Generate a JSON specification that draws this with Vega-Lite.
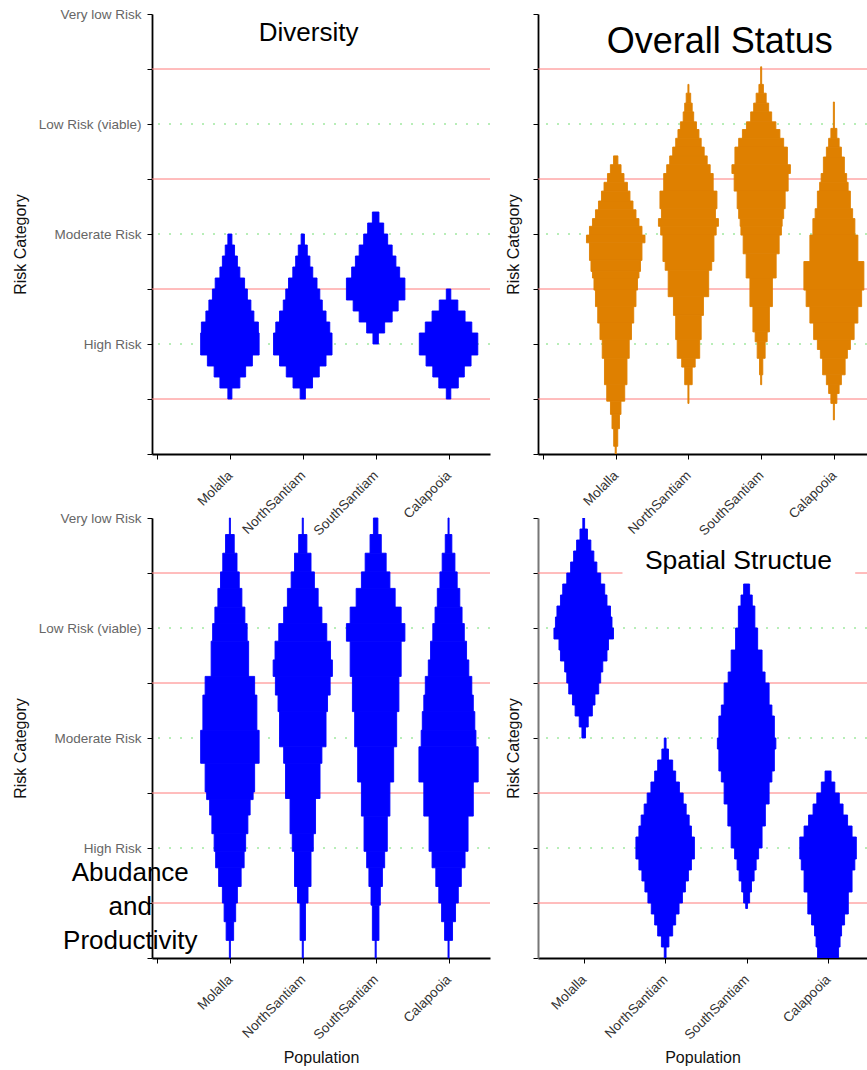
{
  "$schema": "https://vega.github.io/schema/vega-lite/v6.json",
  "padding": {"left": 12, "top": 7, "right": 0, "bottom": 0},
  "config": {
    "font": "Liberation Sans",
    "view": {"stroke": null},
    "axis": {"grid": false, "domainColor": "#000", "tickColor": "#000", "tickSize": 5, "titleFontWeight": "normal", "titleColor": "#111", "labelFlush": false, "labelOverlap": false},
    "axisY": {"labelFontSize": 13.5, "labelColor": "#666", "labelPadding": 6, "titleFontSize": 16, "titlePadding": 10, "titleY": 230, "domainWidth": 1.8},
    "axisX": {"labelAngle": -45, "labelAlign": "right", "labelBaseline": "middle", "labelFontSize": 13.5, "labelColor": "#333", "labelPadding": 14, "titleFontSize": 16, "titlePadding": 8, "domainWidth": 1.8}
  },
  "datasets": {
    "v": [
      {"p":"D","x":1,"a":0.5,"b":0.6,"d":0.027},{"p":"D","x":1,"a":0.6,"b":0.7,"d":0.133},{"p":"D","x":1,"a":0.7,"b":0.8,"d":0.21},{"p":"D","x":1,"a":0.8,"b":0.9,"d":0.30},{"p":"D","x":1,"a":0.9,"b":1.1,"d":0.39},{"p":"D","x":1,"a":1.1,"b":1.2,"d":0.38},{"p":"D","x":1,"a":1.2,"b":1.3,"d":0.32},{"p":"D","x":1,"a":1.3,"b":1.4,"d":0.28},{"p":"D","x":1,"a":1.4,"b":1.5,"d":0.233},{"p":"D","x":1,"a":1.5,"b":1.6,"d":0.196},{"p":"D","x":1,"a":1.6,"b":1.7,"d":0.133},{"p":"D","x":1,"a":1.7,"b":1.8,"d":0.10},{"p":"D","x":1,"a":1.8,"b":1.9,"d":0.062},{"p":"D","x":1,"a":1.9,"b":2.0,"d":0.027},
      {"p":"D","x":2,"a":0.5,"b":0.6,"d":0.035},{"p":"D","x":2,"a":0.6,"b":0.7,"d":0.13},{"p":"D","x":2,"a":0.7,"b":0.8,"d":0.22},{"p":"D","x":2,"a":0.8,"b":0.9,"d":0.31},{"p":"D","x":2,"a":0.9,"b":1.1,"d":0.39},{"p":"D","x":2,"a":1.1,"b":1.2,"d":0.36},{"p":"D","x":2,"a":1.2,"b":1.3,"d":0.31},{"p":"D","x":2,"a":1.3,"b":1.4,"d":0.26},{"p":"D","x":2,"a":1.4,"b":1.5,"d":0.227},{"p":"D","x":2,"a":1.5,"b":1.6,"d":0.19},{"p":"D","x":2,"a":1.6,"b":1.7,"d":0.133},{"p":"D","x":2,"a":1.7,"b":1.8,"d":0.095},{"p":"D","x":2,"a":1.8,"b":1.9,"d":0.06},{"p":"D","x":2,"a":1.9,"b":2.0,"d":0.022},
      {"p":"D","x":3,"a":1.0,"b":1.1,"d":0.036},{"p":"D","x":3,"a":1.1,"b":1.2,"d":0.12},{"p":"D","x":3,"a":1.2,"b":1.3,"d":0.22},{"p":"D","x":3,"a":1.3,"b":1.4,"d":0.30},{"p":"D","x":3,"a":1.4,"b":1.6,"d":0.39},{"p":"D","x":3,"a":1.6,"b":1.7,"d":0.32},{"p":"D","x":3,"a":1.7,"b":1.8,"d":0.27},{"p":"D","x":3,"a":1.8,"b":1.9,"d":0.22},{"p":"D","x":3,"a":1.9,"b":2.0,"d":0.16},{"p":"D","x":3,"a":2.0,"b":2.1,"d":0.107},{"p":"D","x":3,"a":2.1,"b":2.2,"d":0.044},
      {"p":"D","x":4,"a":0.5,"b":0.6,"d":0.03},{"p":"D","x":4,"a":0.6,"b":0.7,"d":0.13},{"p":"D","x":4,"a":0.7,"b":0.8,"d":0.21},{"p":"D","x":4,"a":0.8,"b":0.9,"d":0.30},{"p":"D","x":4,"a":0.9,"b":1.1,"d":0.39},{"p":"D","x":4,"a":1.1,"b":1.2,"d":0.31},{"p":"D","x":4,"a":1.2,"b":1.3,"d":0.22},{"p":"D","x":4,"a":1.3,"b":1.4,"d":0.124},{"p":"D","x":4,"a":1.4,"b":1.5,"d":0.03},

      {"p":"O","x":1,"a":2.63,"b":2.71,"d":0.029},{"p":"O","x":1,"a":2.55,"b":2.63,"d":0.071},{"p":"O","x":1,"a":2.47,"b":2.55,"d":0.11},{"p":"O","x":1,"a":2.39,"b":2.47,"d":0.156},{"p":"O","x":1,"a":2.30,"b":2.39,"d":0.19},{"p":"O","x":1,"a":2.22,"b":2.30,"d":0.23},{"p":"O","x":1,"a":2.14,"b":2.22,"d":0.27},{"p":"O","x":1,"a":2.07,"b":2.14,"d":0.31},{"p":"O","x":1,"a":1.99,"b":2.07,"d":0.35},{"p":"O","x":1,"a":1.92,"b":1.99,"d":0.39},{"p":"O","x":1,"a":1.76,"b":1.92,"d":0.35},{"p":"O","x":1,"a":1.66,"b":1.76,"d":0.33},{"p":"O","x":1,"a":1.60,"b":1.66,"d":0.31},{"p":"O","x":1,"a":1.49,"b":1.60,"d":0.29},{"p":"O","x":1,"a":1.34,"b":1.49,"d":0.27},{"p":"O","x":1,"a":1.19,"b":1.34,"d":0.24},{"p":"O","x":1,"a":1.04,"b":1.19,"d":0.21},{"p":"O","x":1,"a":0.87,"b":1.04,"d":0.18},{"p":"O","x":1,"a":0.63,"b":0.87,"d":0.15},{"p":"O","x":1,"a":0.48,"b":0.63,"d":0.12},{"p":"O","x":1,"a":0.36,"b":0.48,"d":0.07},{"p":"O","x":1,"a":0.23,"b":0.36,"d":0.05},{"p":"O","x":1,"a":0.07,"b":0.23,"d":0.027},{"p":"O","x":1,"a":0.0,"b":0.07,"d":0.007},
      {"p":"O","x":2,"a":3.28,"b":3.36,"d":0.007},{"p":"O","x":2,"a":3.19,"b":3.28,"d":0.03},{"p":"O","x":2,"a":3.11,"b":3.19,"d":0.05},{"p":"O","x":2,"a":3.02,"b":3.11,"d":0.07},{"p":"O","x":2,"a":2.95,"b":3.02,"d":0.107},{"p":"O","x":2,"a":2.87,"b":2.95,"d":0.14},{"p":"O","x":2,"a":2.79,"b":2.87,"d":0.17},{"p":"O","x":2,"a":2.71,"b":2.79,"d":0.21},{"p":"O","x":2,"a":2.63,"b":2.71,"d":0.25},{"p":"O","x":2,"a":2.55,"b":2.63,"d":0.29},{"p":"O","x":2,"a":2.39,"b":2.55,"d":0.33},{"p":"O","x":2,"a":2.23,"b":2.39,"d":0.38},{"p":"O","x":2,"a":2.14,"b":2.23,"d":0.36},{"p":"O","x":2,"a":2.07,"b":2.14,"d":0.40},{"p":"O","x":2,"a":1.99,"b":2.07,"d":0.37},{"p":"O","x":2,"a":1.75,"b":1.99,"d":0.34},{"p":"O","x":2,"a":1.67,"b":1.75,"d":0.31},{"p":"O","x":2,"a":1.43,"b":1.67,"d":0.27},{"p":"O","x":2,"a":1.26,"b":1.43,"d":0.20},{"p":"O","x":2,"a":1.04,"b":1.26,"d":0.17},{"p":"O","x":2,"a":0.87,"b":1.04,"d":0.15},{"p":"O","x":2,"a":0.79,"b":0.87,"d":0.09},{"p":"O","x":2,"a":0.63,"b":0.79,"d":0.05},{"p":"O","x":2,"a":0.46,"b":0.63,"d":0.007},
      {"p":"O","x":3,"a":3.36,"b":3.52,"d":0.007},{"p":"O","x":3,"a":3.28,"b":3.36,"d":0.03},{"p":"O","x":3,"a":3.19,"b":3.28,"d":0.067},{"p":"O","x":3,"a":3.11,"b":3.19,"d":0.10},{"p":"O","x":3,"a":3.02,"b":3.11,"d":0.14},{"p":"O","x":3,"a":2.95,"b":3.02,"d":0.196},{"p":"O","x":3,"a":2.87,"b":2.95,"d":0.25},{"p":"O","x":3,"a":2.79,"b":2.87,"d":0.30},{"p":"O","x":3,"a":2.63,"b":2.79,"d":0.35},{"p":"O","x":3,"a":2.55,"b":2.63,"d":0.39},{"p":"O","x":3,"a":2.39,"b":2.55,"d":0.36},{"p":"O","x":3,"a":2.23,"b":2.39,"d":0.32},{"p":"O","x":3,"a":2.14,"b":2.23,"d":0.30},{"p":"O","x":3,"a":2.07,"b":2.14,"d":0.28},{"p":"O","x":3,"a":1.99,"b":2.07,"d":0.27},{"p":"O","x":3,"a":1.82,"b":1.99,"d":0.24},{"p":"O","x":3,"a":1.60,"b":1.82,"d":0.20},{"p":"O","x":3,"a":1.34,"b":1.60,"d":0.15},{"p":"O","x":3,"a":1.11,"b":1.34,"d":0.11},{"p":"O","x":3,"a":1.02,"b":1.11,"d":0.08},{"p":"O","x":3,"a":0.87,"b":1.02,"d":0.053},{"p":"O","x":3,"a":0.72,"b":0.87,"d":0.022},{"p":"O","x":3,"a":0.63,"b":0.72,"d":0.007},
      {"p":"O","x":4,"a":2.96,"b":3.20,"d":0.007},{"p":"O","x":4,"a":2.87,"b":2.96,"d":0.04},{"p":"O","x":4,"a":2.79,"b":2.87,"d":0.07},{"p":"O","x":4,"a":2.70,"b":2.79,"d":0.10},{"p":"O","x":4,"a":2.55,"b":2.70,"d":0.14},{"p":"O","x":4,"a":2.47,"b":2.55,"d":0.17},{"p":"O","x":4,"a":2.39,"b":2.47,"d":0.19},{"p":"O","x":4,"a":2.23,"b":2.39,"d":0.22},{"p":"O","x":4,"a":2.14,"b":2.23,"d":0.25},{"p":"O","x":4,"a":1.99,"b":2.14,"d":0.28},{"p":"O","x":4,"a":1.75,"b":1.99,"d":0.32},{"p":"O","x":4,"a":1.49,"b":1.75,"d":0.40},{"p":"O","x":4,"a":1.34,"b":1.49,"d":0.37},{"p":"O","x":4,"a":1.19,"b":1.34,"d":0.32},{"p":"O","x":4,"a":1.04,"b":1.19,"d":0.27},{"p":"O","x":4,"a":0.95,"b":1.04,"d":0.22},{"p":"O","x":4,"a":0.87,"b":0.95,"d":0.18},{"p":"O","x":4,"a":0.72,"b":0.87,"d":0.15},{"p":"O","x":4,"a":0.63,"b":0.72,"d":0.10},{"p":"O","x":4,"a":0.55,"b":0.63,"d":0.07},{"p":"O","x":4,"a":0.46,"b":0.55,"d":0.04},{"p":"O","x":4,"a":0.31,"b":0.46,"d":0.007},

      {"p":"A","x":1,"a":3.85,"b":4.0,"d":0.007},{"p":"A","x":1,"a":3.68,"b":3.85,"d":0.058},{"p":"A","x":1,"a":3.51,"b":3.68,"d":0.095},{"p":"A","x":1,"a":3.36,"b":3.51,"d":0.125},{"p":"A","x":1,"a":3.19,"b":3.36,"d":0.16},{"p":"A","x":1,"a":3.04,"b":3.19,"d":0.20},{"p":"A","x":1,"a":2.88,"b":3.04,"d":0.23},{"p":"A","x":1,"a":2.56,"b":2.88,"d":0.25},{"p":"A","x":1,"a":2.39,"b":2.56,"d":0.33},{"p":"A","x":1,"a":2.07,"b":2.39,"d":0.36},{"p":"A","x":1,"a":1.77,"b":2.07,"d":0.39},{"p":"A","x":1,"a":1.51,"b":1.77,"d":0.33},{"p":"A","x":1,"a":1.44,"b":1.51,"d":0.31},{"p":"A","x":1,"a":1.30,"b":1.44,"d":0.27},{"p":"A","x":1,"a":1.13,"b":1.30,"d":0.24},{"p":"A","x":1,"a":0.97,"b":1.13,"d":0.21},{"p":"A","x":1,"a":0.82,"b":0.97,"d":0.19},{"p":"A","x":1,"a":0.65,"b":0.82,"d":0.15},{"p":"A","x":1,"a":0.50,"b":0.65,"d":0.10},{"p":"A","x":1,"a":0.33,"b":0.50,"d":0.077},{"p":"A","x":1,"a":0.16,"b":0.33,"d":0.05},{"p":"A","x":1,"a":0.0,"b":0.16,"d":0.007},
      {"p":"A","x":2,"a":3.85,"b":4.0,"d":0.007},{"p":"A","x":2,"a":3.68,"b":3.85,"d":0.055},{"p":"A","x":2,"a":3.51,"b":3.68,"d":0.11},{"p":"A","x":2,"a":3.36,"b":3.51,"d":0.155},{"p":"A","x":2,"a":3.19,"b":3.36,"d":0.205},{"p":"A","x":2,"a":3.04,"b":3.19,"d":0.255},{"p":"A","x":2,"a":2.88,"b":3.04,"d":0.32},{"p":"A","x":2,"a":2.71,"b":2.88,"d":0.37},{"p":"A","x":2,"a":2.56,"b":2.71,"d":0.395},{"p":"A","x":2,"a":2.39,"b":2.56,"d":0.365},{"p":"A","x":2,"a":2.24,"b":2.39,"d":0.33},{"p":"A","x":2,"a":1.92,"b":2.24,"d":0.31},{"p":"A","x":2,"a":1.77,"b":1.92,"d":0.255},{"p":"A","x":2,"a":1.45,"b":1.77,"d":0.23},{"p":"A","x":2,"a":1.13,"b":1.45,"d":0.17},{"p":"A","x":2,"a":0.97,"b":1.13,"d":0.14},{"p":"A","x":2,"a":0.65,"b":0.97,"d":0.11},{"p":"A","x":2,"a":0.50,"b":0.65,"d":0.07},{"p":"A","x":2,"a":0.16,"b":0.50,"d":0.036},{"p":"A","x":2,"a":0.0,"b":0.16,"d":0.007},
      {"p":"A","x":3,"a":3.85,"b":4.0,"d":0.03},{"p":"A","x":3,"a":3.68,"b":3.85,"d":0.075},{"p":"A","x":3,"a":3.51,"b":3.68,"d":0.14},{"p":"A","x":3,"a":3.36,"b":3.51,"d":0.19},{"p":"A","x":3,"a":3.19,"b":3.36,"d":0.26},{"p":"A","x":3,"a":3.04,"b":3.19,"d":0.34},{"p":"A","x":3,"a":2.88,"b":3.04,"d":0.39},{"p":"A","x":3,"a":2.56,"b":2.88,"d":0.34},{"p":"A","x":3,"a":2.24,"b":2.56,"d":0.31},{"p":"A","x":3,"a":1.92,"b":2.24,"d":0.28},{"p":"A","x":3,"a":1.60,"b":1.92,"d":0.24},{"p":"A","x":3,"a":1.29,"b":1.60,"d":0.19},{"p":"A","x":3,"a":0.97,"b":1.29,"d":0.155},{"p":"A","x":3,"a":0.82,"b":0.97,"d":0.12},{"p":"A","x":3,"a":0.65,"b":0.82,"d":0.09},{"p":"A","x":3,"a":0.48,"b":0.65,"d":0.062},{"p":"A","x":3,"a":0.16,"b":0.48,"d":0.044},{"p":"A","x":3,"a":0.0,"b":0.16,"d":0.007},
      {"p":"A","x":4,"a":3.85,"b":4.0,"d":0.007},{"p":"A","x":4,"a":3.68,"b":3.85,"d":0.044},{"p":"A","x":4,"a":3.51,"b":3.68,"d":0.085},{"p":"A","x":4,"a":3.36,"b":3.51,"d":0.115},{"p":"A","x":4,"a":3.19,"b":3.36,"d":0.15},{"p":"A","x":4,"a":3.04,"b":3.19,"d":0.18},{"p":"A","x":4,"a":2.88,"b":3.04,"d":0.21},{"p":"A","x":4,"a":2.71,"b":2.88,"d":0.24},{"p":"A","x":4,"a":2.56,"b":2.71,"d":0.27},{"p":"A","x":4,"a":2.39,"b":2.56,"d":0.31},{"p":"A","x":4,"a":2.24,"b":2.39,"d":0.33},{"p":"A","x":4,"a":2.07,"b":2.24,"d":0.35},{"p":"A","x":4,"a":1.92,"b":2.07,"d":0.365},{"p":"A","x":4,"a":1.60,"b":1.92,"d":0.395},{"p":"A","x":4,"a":1.29,"b":1.60,"d":0.33},{"p":"A","x":4,"a":0.97,"b":1.29,"d":0.26},{"p":"A","x":4,"a":0.82,"b":0.97,"d":0.22},{"p":"A","x":4,"a":0.65,"b":0.82,"d":0.17},{"p":"A","x":4,"a":0.50,"b":0.65,"d":0.13},{"p":"A","x":4,"a":0.33,"b":0.50,"d":0.093},{"p":"A","x":4,"a":0.16,"b":0.33,"d":0.053},{"p":"A","x":4,"a":0.0,"b":0.16,"d":0.007},

      {"p":"S","x":1,"a":2.0,"b":2.1,"d":0.024},{"p":"S","x":1,"a":2.1,"b":2.2,"d":0.06},{"p":"S","x":1,"a":2.2,"b":2.3,"d":0.115},{"p":"S","x":1,"a":2.3,"b":2.4,"d":0.15},{"p":"S","x":1,"a":2.4,"b":2.5,"d":0.20},{"p":"S","x":1,"a":2.5,"b":2.6,"d":0.226},{"p":"S","x":1,"a":2.6,"b":2.7,"d":0.254},{"p":"S","x":1,"a":2.7,"b":2.8,"d":0.31},{"p":"S","x":1,"a":2.8,"b":2.9,"d":0.33},{"p":"S","x":1,"a":2.9,"b":3.0,"d":0.397},{"p":"S","x":1,"a":3.0,"b":3.1,"d":0.377},{"p":"S","x":1,"a":3.1,"b":3.2,"d":0.357},{"p":"S","x":1,"a":3.2,"b":3.3,"d":0.31},{"p":"S","x":1,"a":3.3,"b":3.4,"d":0.28},{"p":"S","x":1,"a":3.4,"b":3.5,"d":0.226},{"p":"S","x":1,"a":3.5,"b":3.6,"d":0.175},{"p":"S","x":1,"a":3.6,"b":3.7,"d":0.135},{"p":"S","x":1,"a":3.7,"b":3.8,"d":0.095},{"p":"S","x":1,"a":3.8,"b":3.9,"d":0.05},{"p":"S","x":1,"a":3.9,"b":4.0,"d":0.012},
      {"p":"S","x":2,"a":0.0,"b":0.1,"d":0.012},{"p":"S","x":2,"a":0.1,"b":0.2,"d":0.05},{"p":"S","x":2,"a":0.2,"b":0.3,"d":0.10},{"p":"S","x":2,"a":0.3,"b":0.4,"d":0.14},{"p":"S","x":2,"a":0.4,"b":0.5,"d":0.185},{"p":"S","x":2,"a":0.5,"b":0.6,"d":0.23},{"p":"S","x":2,"a":0.6,"b":0.7,"d":0.27},{"p":"S","x":2,"a":0.7,"b":0.8,"d":0.31},{"p":"S","x":2,"a":0.8,"b":0.9,"d":0.35},{"p":"S","x":2,"a":0.9,"b":1.1,"d":0.39},{"p":"S","x":2,"a":1.1,"b":1.2,"d":0.35},{"p":"S","x":2,"a":1.2,"b":1.3,"d":0.32},{"p":"S","x":2,"a":1.3,"b":1.4,"d":0.28},{"p":"S","x":2,"a":1.4,"b":1.5,"d":0.24},{"p":"S","x":2,"a":1.5,"b":1.6,"d":0.19},{"p":"S","x":2,"a":1.6,"b":1.7,"d":0.14},{"p":"S","x":2,"a":1.7,"b":1.8,"d":0.10},{"p":"S","x":2,"a":1.8,"b":1.9,"d":0.044},{"p":"S","x":2,"a":1.9,"b":2.0,"d":0.012},
      {"p":"S","x":3,"a":0.45,"b":0.5,"d":0.012},{"p":"S","x":3,"a":0.5,"b":0.6,"d":0.04},{"p":"S","x":3,"a":0.6,"b":0.7,"d":0.065},{"p":"S","x":3,"a":0.7,"b":0.8,"d":0.10},{"p":"S","x":3,"a":0.8,"b":0.9,"d":0.127},{"p":"S","x":3,"a":0.9,"b":1.0,"d":0.16},{"p":"S","x":3,"a":1.0,"b":1.2,"d":0.206},{"p":"S","x":3,"a":1.2,"b":1.4,"d":0.25},{"p":"S","x":3,"a":1.4,"b":1.6,"d":0.30},{"p":"S","x":3,"a":1.6,"b":1.7,"d":0.337},{"p":"S","x":3,"a":1.7,"b":1.9,"d":0.37},{"p":"S","x":3,"a":1.9,"b":2.0,"d":0.39},{"p":"S","x":3,"a":2.0,"b":2.2,"d":0.37},{"p":"S","x":3,"a":2.2,"b":2.3,"d":0.337},{"p":"S","x":3,"a":2.3,"b":2.5,"d":0.30},{"p":"S","x":3,"a":2.5,"b":2.6,"d":0.246},{"p":"S","x":3,"a":2.6,"b":2.8,"d":0.206},{"p":"S","x":3,"a":2.8,"b":3.0,"d":0.147},{"p":"S","x":3,"a":3.0,"b":3.2,"d":0.11},{"p":"S","x":3,"a":3.2,"b":3.3,"d":0.075},{"p":"S","x":3,"a":3.3,"b":3.4,"d":0.04},
      {"p":"S","x":4,"a":0.0,"b":0.1,"d":0.14},{"p":"S","x":4,"a":0.1,"b":0.2,"d":0.16},{"p":"S","x":4,"a":0.2,"b":0.3,"d":0.18},{"p":"S","x":4,"a":0.3,"b":0.4,"d":0.22},{"p":"S","x":4,"a":0.4,"b":0.6,"d":0.27},{"p":"S","x":4,"a":0.6,"b":0.8,"d":0.32},{"p":"S","x":4,"a":0.8,"b":0.9,"d":0.357},{"p":"S","x":4,"a":0.9,"b":1.1,"d":0.377},{"p":"S","x":4,"a":1.1,"b":1.2,"d":0.32},{"p":"S","x":4,"a":1.2,"b":1.3,"d":0.26},{"p":"S","x":4,"a":1.3,"b":1.4,"d":0.20},{"p":"S","x":4,"a":1.4,"b":1.5,"d":0.15},{"p":"S","x":4,"a":1.5,"b":1.6,"d":0.09},{"p":"S","x":4,"a":1.6,"b":1.7,"d":0.04}
    ],
    "red": [{"a":0.5},{"a":1.5},{"a":2.5},{"a":3.5}],
    "green": [{"a":1},{"a":2},{"a":3}]
  },
  "columns": 2,
  "spacing": {"row": 64, "column": 48},
  "bounds": "flush",
  "concat": [
    {
      "width": 338, "height": 440,
      "layer": [
        {"data": {"name": "red"}, "mark": {"type": "rule", "color": "#ff7a7a", "strokeWidth": 1}, "encoding": {"y": {"field": "a", "type": "quantitative", "scale": {"domain": [0, 4], "nice": false}}}},
        {"data": {"name": "green"}, "mark": {"type": "rule", "color": "#70dd70", "strokeWidth": 1, "strokeDash": [2, 9]}, "encoding": {"y": {"field": "a", "type": "quantitative"}}},
        {"data": {"name": "v"}, "transform": [{"filter": "datum.p == 'D'"}], "mark": {"type": "bar", "color": "#0000ff", "stroke": "#0000ff", "strokeWidth": 0.9, "orient": "vertical"},
         "encoding": {
           "x": {"field": "x", "type": "quantitative", "scale": {"domain": [0, 4.5], "nice": false, "zero": false}, "axis": {"values": [0,1,2,3,4], "labelExpr": "datum.value == 1 ? 'Molalla' : datum.value == 2 ? 'NorthSantiam' : datum.value == 3 ? 'SouthSantiam' : datum.value == 4 ? 'Calapooia' : ''", "title": null}},
           "y": {"field": "a", "type": "quantitative", "scale": {"domain": [0, 4], "nice": false}, "axis": {"values": [0,0.5,1,1.5,2,2.5,3,3.5,4], "labelExpr": "datum.value == 4 ? 'Very low Risk' : datum.value == 3 ? 'Low Risk (viable)' : datum.value == 2 ? 'Moderate Risk' : datum.value == 1 ? 'High Risk' : ''", "title": "Risk Category"}},
           "y2": {"field": "b"},
           "size": {"field": "d", "type": "quantitative", "scale": {"domain": [0, 1], "range": [0, 150], "zero": true}, "legend": null}
         }},
        {"data": {"values": [{}]}, "mark": {"type": "text", "fontSize": 26, "color": "#000"}, "encoding": {"x": {"datum": 2.08}, "y": {"datum": 3.83}, "text": {"value": "Diversity"}}}
      ]
    },
    {
      "width": 329, "height": 440,
      "layer": [
        {"data": {"name": "red"}, "mark": {"type": "rule", "color": "#ff7a7a", "strokeWidth": 1}, "encoding": {"y": {"field": "a", "type": "quantitative", "scale": {"domain": [0, 4], "nice": false}}}},
        {"data": {"name": "green"}, "mark": {"type": "rule", "color": "#70dd70", "strokeWidth": 1, "strokeDash": [2, 9]}, "encoding": {"y": {"field": "a", "type": "quantitative"}}},
        {"data": {"name": "v"}, "transform": [{"filter": "datum.p == 'O'"}], "mark": {"type": "bar", "color": "#df8000", "stroke": "#df8000", "strokeWidth": 0.9, "orient": "vertical", "clip": true},
         "encoding": {
           "x": {"field": "x", "type": "quantitative", "scale": {"domain": [0, 4.38667], "nice": false, "zero": false}, "axis": {"values": [0,1,2,3,4], "labelExpr": "datum.value == 1 ? 'Molalla' : datum.value == 2 ? 'NorthSantiam' : datum.value == 3 ? 'SouthSantiam' : datum.value == 4 ? 'Calapooia' : ''", "title": null}},
           "y": {"field": "a", "type": "quantitative", "scale": {"domain": [0, 4], "nice": false}, "axis": {"values": [0,0.5,1,1.5,2,2.5,3,3.5,4], "labels": false, "title": "Risk Category", "titlePadding": 11}},
           "y2": {"field": "b"},
           "size": {"field": "d", "type": "quantitative", "scale": {"domain": [0, 1], "range": [0, 150], "zero": true}, "legend": null}
         }},
        {"data": {"values": [{}]}, "mark": {"type": "text", "fontSize": 36, "color": "#000"}, "encoding": {"x": {"datum": 2.43}, "y": {"datum": 3.75}, "text": {"value": "Overall Status"}}}
      ]
    },
    {
      "width": 338, "height": 440,
      "layer": [
        {"data": {"name": "red"}, "mark": {"type": "rule", "color": "#ff7a7a", "strokeWidth": 1}, "encoding": {"y": {"field": "a", "type": "quantitative", "scale": {"domain": [0, 4], "nice": false}}}},
        {"data": {"name": "green"}, "mark": {"type": "rule", "color": "#70dd70", "strokeWidth": 1, "strokeDash": [2, 9]}, "encoding": {"y": {"field": "a", "type": "quantitative"}}},
        {"data": {"name": "v"}, "transform": [{"filter": "datum.p == 'A'"}], "mark": {"type": "bar", "color": "#0000ff", "stroke": "#0000ff", "strokeWidth": 0.9, "orient": "vertical"},
         "encoding": {
           "x": {"field": "x", "type": "quantitative", "scale": {"domain": [0, 4.5], "nice": false, "zero": false}, "axis": {"values": [0,1,2,3,4], "labelExpr": "datum.value == 1 ? 'Molalla' : datum.value == 2 ? 'NorthSantiam' : datum.value == 3 ? 'SouthSantiam' : datum.value == 4 ? 'Calapooia' : ''", "title": "Population"}},
           "y": {"field": "a", "type": "quantitative", "scale": {"domain": [0, 4], "nice": false}, "axis": {"values": [0,0.5,1,1.5,2,2.5,3,3.5,4], "labelExpr": "datum.value == 4 ? 'Very low Risk' : datum.value == 3 ? 'Low Risk (viable)' : datum.value == 2 ? 'Moderate Risk' : datum.value == 1 ? 'High Risk' : ''", "title": "Risk Category"}},
           "y2": {"field": "b"},
           "size": {"field": "d", "type": "quantitative", "scale": {"domain": [0, 1], "range": [0, 150], "zero": true}, "legend": null}
         }},
        {"data": {"values": [{}]}, "mark": {"type": "text", "fontSize": 26, "color": "#000", "lineBreak": "\n", "lineHeight": 34, "align": "center", "baseline": "middle"}, "encoding": {"x": {"datum": -0.367}, "y": {"datum": 0.775}, "text": {"value": "Abudance\nand\nProductivity"}}}
      ]
    },
    {
      "width": 329, "height": 440,
      "layer": [
        {"data": {"name": "red"}, "mark": {"type": "rule", "color": "#ff7a7a", "strokeWidth": 1}, "encoding": {"y": {"field": "a", "type": "quantitative", "scale": {"domain": [0, 4], "nice": false}}}},
        {"data": {"name": "green"}, "mark": {"type": "rule", "color": "#70dd70", "strokeWidth": 1, "strokeDash": [2, 9]}, "encoding": {"y": {"field": "a", "type": "quantitative"}}},
        {"data": {"values": [{}]}, "mark": {"type": "rect", "color": "#ffffff"}, "encoding": {"x": {"datum": 1.476}, "x2": {"datum": 4.333}, "y": {"datum": 3.78}, "y2": {"datum": 3.42}}},
        {"data": {"name": "v"}, "transform": [{"filter": "datum.p == 'S'"}], "mark": {"type": "bar", "color": "#0000ff", "stroke": "#0000ff", "strokeWidth": 0.9, "orient": "vertical", "clip": true},
         "encoding": {
           "x": {"field": "x", "type": "quantitative", "scale": {"domain": [0.5, 4.41667], "nice": false, "zero": false}, "axis": {"values": [1,2,3,4], "labelExpr": "datum.value == 1 ? 'Molalla' : datum.value == 2 ? 'NorthSantiam' : datum.value == 3 ? 'SouthSantiam' : datum.value == 4 ? 'Calapooia' : ''", "title": "Population"}},
           "y": {"field": "a", "type": "quantitative", "scale": {"domain": [0, 4], "nice": false}, "axis": {"values": [0,0.5,1,1.5,2,2.5,3,3.5,4], "labels": false, "title": "Risk Category", "titlePadding": 11, "domainColor": "#777", "domainWidth": 2}},
           "y2": {"field": "b"},
           "size": {"field": "d", "type": "quantitative", "scale": {"domain": [0, 1], "range": [0, 168], "zero": true}, "legend": null}
         }},
        {"data": {"values": [{}]}, "mark": {"type": "text", "fontSize": 26.5, "color": "#000"}, "encoding": {"x": {"datum": 2.9}, "y": {"datum": 3.61}, "text": {"value": "Spatial Structue"}}}
      ]
    }
  ]
}
